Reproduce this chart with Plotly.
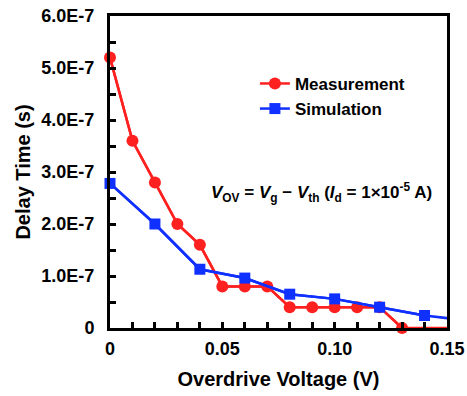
import plotly.graph_objects as go

meas_x = [0, 0.01, 0.02, 0.03, 0.04, 0.05, 0.06, 0.07, 0.08, 0.09, 0.10, 0.11, 0.12, 0.13, 0.16]
meas_y = [5.2e-7, 3.6e-7, 2.8e-7, 2.0e-7, 1.6e-7, 0.8e-7, 0.8e-7, 0.8e-7, 0.4e-7, 0.4e-7, 0.4e-7, 0.4e-7, 0.4e-7, 0.0, 0.0]
sim_x = [0, 0.02, 0.04, 0.06, 0.08, 0.10, 0.12, 0.14, 0.16]
sim_y = [2.78e-7, 2.0e-7, 1.13e-7, 0.96e-7, 0.65e-7, 0.56e-7, 0.4e-7, 0.24e-7, 0.14e-7]

y_tickvals = [0, 1e-7, 2e-7, 3e-7, 4e-7, 5e-7, 6e-7]
y_ticktext = ["0", "1.0E-7", "2.0E-7", "3.0E-7", "4.0E-7", "5.0E-7", "6.0E-7"]
x_tickvals = [0, 0.05, 0.10, 0.15]
x_ticktext = ["0", "0.05", "0.10", "0.15"]

RED = "#ff2020"
BLUE = "#1030ff"
FONT = "Liberation Sans, Arial, sans-serif"
XMAX = 0.15

fig = go.Figure()

def add_series(xs, ys, color, symbol, size, name):
    fig.add_trace(go.Scatter(x=xs, y=ys, mode="lines", line=dict(color=color, width=2.5),
                             showlegend=False, cliponaxis=True, hoverinfo="skip"))
    mx = [a for a in xs if a <= XMAX + 1e-9]
    my = [b for a, b in zip(xs, ys) if a <= XMAX + 1e-9]
    fig.add_trace(go.Scatter(x=mx, y=my, mode="lines+markers", name=name,
                             line=dict(color=color, width=2.5),
                             marker=dict(color=color, symbol=symbol, size=size),
                             cliponaxis=False))

add_series(meas_x, meas_y, RED, "circle", 12, "Measurement")
add_series(sim_x, sim_y, BLUE, "square", 11, "Simulation")

def bold(size):
    return dict(family=FONT, size=size, color="black", weight="bold")

axis_common = dict(showline=True, linecolor="black", linewidth=3, mirror=True,
                   ticks="inside", ticklen=6, tickwidth=2.5, tickcolor="black",
                   showgrid=False, zeroline=False, automargin=False,
                   tickfont=bold(18))

fig.update_xaxes(range=[0, XMAX], tickvals=x_tickvals, ticktext=x_ticktext,
                 minor=dict(dtick=0.01, ticks="inside", ticklen=6, tickwidth=2.5, tickcolor="black"),
                 title=dict(text="Overdrive Voltage (V)", font=bold(20), standoff=15),
                 ticklabelstandoff=2,
                 **axis_common)
fig.update_yaxes(range=[0, 6e-7], tickvals=y_tickvals, ticktext=y_ticktext,
                 minor=dict(dtick=0.5e-7, ticks="inside", ticklen=6, tickwidth=2.5, tickcolor="black"),
                 title=dict(text="Delay Time (s)", font=bold(20), standoff=6),
                 ticklabelstandoff=9,
                 **axis_common)

fig.update_layout(
    width=467, height=396,
    margin=dict(l=110, r=20, t=16, b=68),
    plot_bgcolor="white", paper_bgcolor="white",
    font=bold(16),
    legend=dict(x=0.43, y=0.84, xanchor="left", yanchor="top",
                bgcolor="rgba(0,0,0,0)", font=bold(17),
                itemwidth=30, tracegroupgap=0),
    annotations=[dict(
        x=0.96, y=0.435, xref="paper", yref="paper", xanchor="right", yanchor="middle",
        showarrow=False, font=bold(17),
        text="<i>V</i><sub>OV</sub> = <i>V</i><sub>g</sub> − <i>V</i><sub>th</sub> (<i>I</i><sub>d</sub> = 1×10<sup>-5</sup> A)")]
)

fig.write_html("out.html")
